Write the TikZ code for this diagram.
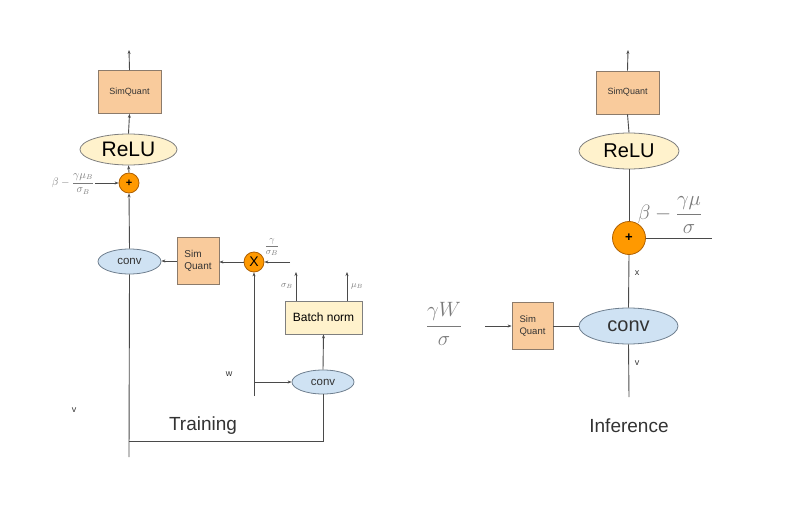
\documentclass[tikz,border=0pt]{standalone}
\usepackage{fontspec}
\setmainfont{Liberation Sans}
\usetikzlibrary{arrows.meta,shapes.geometric}
\definecolor{sqfill}{HTML}{F9CB9C}
\definecolor{sqdraw}{HTML}{8C7B6B}
\definecolor{relufill}{HTML}{FFF2CC}
\definecolor{reludraw}{HTML}{7F7F7F}
\definecolor{convfill}{HTML}{CFE2F3}
\definecolor{convdraw}{HTML}{6F7F8F}
\definecolor{opfill}{HTML}{FF9900}
\definecolor{opdraw}{HTML}{B06000}
\definecolor{wire}{HTML}{4A4A4A}
\definecolor{mathgray}{HTML}{7A7A7A}
\tikzset{
  sqbox/.style={draw=sqdraw, fill=sqfill, line width=0.8pt, inner sep=0pt, align=left, text=black!80},
  relubox/.style={ellipse, draw=reludraw, fill=relufill, line width=0.8pt, inner sep=0pt},
  convbox/.style={ellipse, draw=convdraw, fill=convfill, line width=0.8pt, inner sep=0pt, text=black!80},
  opbox/.style={circle, draw=opdraw, fill=opfill, line width=0.8pt, inner sep=0pt},
  bnbox/.style={draw=reludraw, fill=relufill, line width=0.8pt, inner sep=0pt},
  wireline/.style={draw=wire, line width=0.9pt},
  arr/.style={wireline, -{Stealth[length=4pt,width=3pt]}},
  lbl/.style={inner sep=0pt, text=black!80},
}
\begin{document}
\begin{tikzpicture}[x=1pt,y=-1pt]
\useasboundingbox (0,0) rectangle (800,532);
% ---------------- Training ----------------
\node[sqbox, minimum width=63, minimum height=43, font=\fontsize{9}{10}\selectfont] (sq1) at (129.5,92) {SimQuant};
\node[relubox, minimum width=97, minimum height=31, font=\fontsize{21}{24}\selectfont] (relu1) at (128.5,149.5) {ReLU};
\node[opbox, minimum size=20, font=\fontsize{11}{12}\selectfont\bfseries] (plus1) at (129,183) {+};
\node[convbox, minimum width=63, minimum height=25, font=\fontsize{11.5}{13}\selectfont] (conv1) at (129.5,261.5) {conv};
\node[sqbox, minimum width=42, minimum height=47, font=\fontsize{10}{11.5}\selectfont] (sq2) at (198,261) {Sim\\Quant};
\node[opbox, minimum size=20, font=\fontsize{14}{15}\selectfont] (mul) at (254,262) {X};
\node[bnbox, minimum width=77, minimum height=33, font=\fontsize{12}{14}\selectfont] (bn) at (323.5,317.5) {Batch norm};
\node[convbox, minimum width=62, minimum height=24, font=\fontsize{11.5}{13}\selectfont] (conv2) at (323,382) {conv};

\node[lbl, text=mathgray, font=\fontsize{10.5}{12}\selectfont] (l1) at (73,184) {$\displaystyle\beta-\frac{\gamma\mu_B}{\sigma_B}$};
\node[lbl, text=mathgray, font=\fontsize{9.5}{11}\selectfont] (l2) at (272,247) {$\displaystyle\frac{\gamma}{\sigma_B}$};
\node[lbl, text=mathgray, font=\fontsize{9}{11}\selectfont] (lsig) at (287,286) {$\sigma_B$};
\node[lbl, text=mathgray, font=\fontsize{9}{11}\selectfont] (lmu) at (357,286) {$\mu_B$};
\node[lbl, font=\fontsize{9}{11}\selectfont] (lw) at (229,374) {w};
\node[lbl, font=\fontsize{9}{11}\selectfont] (lv) at (74,410) {v};
\node[lbl, font=\fontsize{19}{22}\selectfont] (train) at (203,426) {Training};

\coordinate (top1) at (129,50);
\coordinate (l1e) at (95,183);
\coordinate (l2e) at (290,262);
\coordinate (mulbot) at (254,396);
\coordinate (wstart) at (254,382);
\coordinate (sigtop) at (296,272);
\coordinate (mutop) at (347,272);
\coordinate (sigbot) at (296,301);
\coordinate (mubot) at (347,301);
\coordinate (corner2) at (323,441);
\coordinate (corner1) at (129,441);
\coordinate (vbot) at (129,457);

\draw[arr] (sq1.north) -- (top1);
\draw[arr] (relu1.north) -- (sq1.south);
\draw[arr] (plus1.north) -- (relu1.south);
\draw[arr] (conv1.north) -- (plus1.south);
\draw[arr] (l1e) -- (plus1.west);
\draw[arr] (sq2.west) -- (sq2.west -| conv1.east);
\draw[arr] (mul.west) -- (mul.west -| sq2.east);
\draw[arr] (l2e) -- (mul.east);
\draw[arr] (mulbot) -- (mul.south);
\draw[arr] (wstart) -- (conv2.west);
\draw[arr] (conv2.north) -- (bn.south);
\draw[arr] (sigbot) -- (sigtop);
\draw[arr] (mubot) -- (mutop);
\draw[wireline] (conv2.south) -- (corner2) -- (corner1);
\draw[wireline] (conv1.south) -- (vbot);

% ---------------- Inference ----------------
\node[sqbox, minimum width=63, minimum height=43, font=\fontsize{9}{10}\selectfont] (sq3) at (627.5,92.5) {SimQuant};
\node[relubox, minimum width=100, minimum height=36, font=\fontsize{20}{23}\selectfont] (relu2) at (629,151) {ReLU};
\node[opbox, minimum size=33, font=\fontsize{13}{14}\selectfont\bfseries] (plus2) at (629,238) {+};
\node[convbox, minimum width=99, minimum height=36, font=\fontsize{20}{23}\selectfont] (conv3) at (628.5,326) {conv};
\node[sqbox, minimum width=41, minimum height=47, font=\fontsize{9.5}{11.5}\selectfont] (sq4) at (532.5,326) {Sim\\Quant};

\node[lbl, text=mathgray, font=\fontsize{21}{25}\selectfont] (l3) at (444,324) {$\displaystyle\frac{\gamma W}{\sigma}$};
\node[lbl, text=mathgray, font=\fontsize{22}{26}\selectfont] (l4) at (670,215) {$\displaystyle\beta-\frac{\gamma\mu}{\sigma}$};
\node[lbl, font=\fontsize{9}{11}\selectfont] (lx) at (637,273) {x};
\node[lbl, font=\fontsize{9}{11}\selectfont] (lv2) at (637,363) {v};
\node[lbl, font=\fontsize{19}{22}\selectfont] (inf) at (629,426) {Inference};

\coordinate (top3) at (628,50);
\coordinate (pe) at (712,238);
\coordinate (cb) at (629,397);
\coordinate (ws) at (485,326);

\draw[arr] (sq3.north) -- (top3);
\draw[wireline] (relu2.north) -- (sq3.south);
\draw[wireline] (plus2.north) -- (relu2.south);
\draw[wireline] (conv3.north) -- (plus2.south);
\draw[wireline] (plus2.east) -- (pe);
\draw[wireline] (conv3.south) -- (cb);
\draw[wireline] (sq4.east) -- (conv3.west);
\draw[arr] (ws) -- (sq4.west);
\end{tikzpicture}
\end{document}
